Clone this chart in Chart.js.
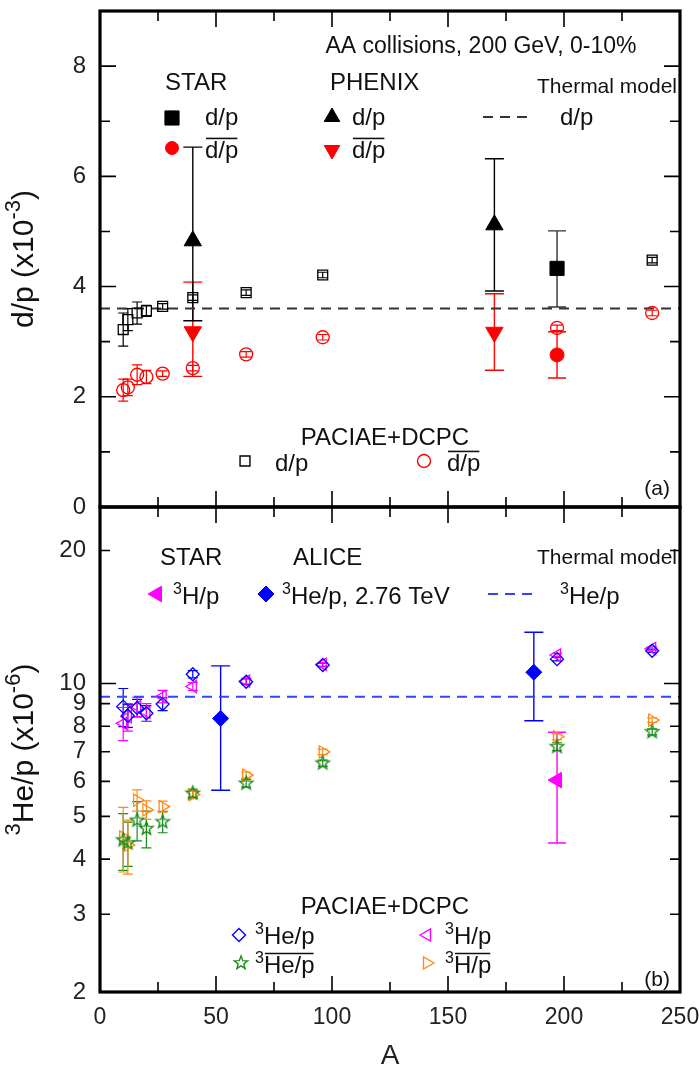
<!DOCTYPE html>
<html><head><meta charset="utf-8">
<script src="https://cdn.jsdelivr.net/npm/chart.js@4.4.0/dist/chart.umd.min.js"></script>
<style>
html,body{margin:0;padding:0;background:#fff;}
#wrap{position:relative;width:699px;height:1068px;}
.c{position:absolute;left:0;top:0;width:699px;height:1068px;}
</style></head><body>
<div id="wrap"><div class="c"><canvas id="top"></canvas></div><div class="c"><canvas id="bot"></canvas></div></div>
<script>
// ---------------- data ----------------
const nucleiA = [10, 12, 16, 20, 27, 40, 63, 96, 197, 238];
// panel (a)
const paciaeDP = [3.22, 3.40, 3.52, 3.56, 3.64, 3.80, 3.89, 4.21, 4.33, 4.48];
const paciaeDPErr = [0.30, 0.20, 0.20, 0.10, 0.05, 0.05, 0.05, 0.05, 0.05, 0.05];
const paciaeDbarPbar = [2.12, 2.17, 2.40, 2.36, 2.42, 2.52, 2.77, 3.08, 3.25, 3.52];
const paciaeDbarPbarErr = [0.20, 0.15, 0.18, 0.12, 0.05, 0.05, 0.05, 0.05, 0.05, 0.05];
const starA = [197];
const starDP = [4.33];
const starDPErrUp = [0.68];
const starDPErrDn = [0.70];
const starDbarPbar = [2.76];
const starDbarPbarErrUp = [0.42];
const starDbarPbarErrDn = [0.42];
const phenixA = [40, 170];
const phenixDP = [4.83, 5.12];
const phenixDPErrUp = [1.70, 1.20];
const phenixDPErrDn = [1.45, 1.20];
const phenixDbarPbar = [3.18, 3.17];
const phenixDbarPbarErrUp = [0.90, 0.70];
const phenixDbarPbarErrDn = [0.81, 0.69];
const thermalDP = 3.6;
// panel (b)
const paciaeHe3 = [8.86, 8.45, 8.80, 8.56, 8.98, 10.49, 10.09, 11.01, 11.35, 11.86];
const paciaeHe3Err = [0.88, 0.50, 0.40, 0.35, 0.30, 0.20, 0.15, 0.10, 0.10, 0.10];
const paciaeH3 = [8.12, 8.40, 8.86, 8.60, 9.34, 9.84, 10.12, 11.05, 11.60, 12.00];
const paciaeH3Err = [0.70, 0.60, 0.45, 0.40, 0.30, 0.20, 0.15, 0.10, 0.10, 0.10];
const paciaeHe3bar = [4.42, 4.35, 4.90, 4.69, 4.86, 5.64, 5.94, 6.60, 7.19, 7.77];
const paciaeHe3barErr = [0.65, 0.50, 0.50, 0.45, 0.27, 0.12, 0.12, 0.10, 0.15, 0.12];
const paciaeH3bar = [4.49, 4.30, 5.44, 5.17, 5.26, 5.60, 6.20, 7.00, 7.57, 8.26];
const paciaeH3barErr = [0.75, 0.60, 0.30, 0.25, 0.15, 0.12, 0.10, 0.10, 0.12, 0.10];
const aliceA = [52, 187];
const aliceHe3 = [8.33, 10.60];
const aliceHe3ErrUp = [2.63, 2.46];
const aliceHe3ErrDn = [2.60, 2.37];
const starH3A = [197];
const starH3 = [6.04];
const starH3ErrUp = [1.71];
const starH3ErrDn = [1.69];
const thermalHe3 = 9.33;
// axes
const xTickValues = [0, 50, 100, 150, 200, 250];
const xMinorValues = [25, 75, 125, 175, 225];
const topYTickValues = [0, 2, 4, 6, 8];
const topYMinorValues = [1, 3, 5, 7];
const botYTickValues = [2, 3, 4, 5, 6, 7, 8, 9, 10, 20];
const botYMajorMarks = [10];
const botYMinorMarks = [3, 4, 5, 6, 7, 8, 9, 20];

// ---------------- helpers ----------------
const FONT = "'Liberation Sans', Arial, Helvetica, sans-serif";
const COL = {black:'#000000', red:'#ff0000', magenta:'#ff00ff', blue:'#0000ff', blueDash:'#3344ff', green:'#1a8c1a', orange:'#ff8c1a', dash:'#333333'};

function pts(xs, ys) { return xs.map((x, i) => ({x: x, y: ys[i]})); }

function pathMarker(ctx, type, x, y, r, rot) {
  ctx.beginPath();
  if (type === 'rect') {
    const s = r * Math.SQRT1_2; ctx.rect(x - s, y - s, 2 * s, 2 * s);
  } else if (type === 'circle') {
    ctx.arc(x, y, r, 0, Math.PI * 2);
  } else if (type === 'tri') {
    let a = (rot || 0) * Math.PI / 180;
    for (let k = 0; k < 3; k++) {
      const px = x + Math.sin(a) * r, py = y - Math.cos(a) * r;
      if (k === 0) ctx.moveTo(px, py); else ctx.lineTo(px, py);
      a += 2 * Math.PI / 3;
    }
    ctx.closePath();
  } else if (type === 'diamond') {
    ctx.moveTo(x - r, y); ctx.lineTo(x, y - r); ctx.lineTo(x + r, y); ctx.lineTo(x, y + r); ctx.closePath();
  } else if (type === 'star') {
    for (let k = 0; k < 10; k++) {
      const rr = k % 2 === 0 ? r : r * 0.42;
      const a = -Math.PI / 2 + k * Math.PI / 5;
      const px = x + Math.cos(a) * rr, py = y + Math.sin(a) * rr;
      if (k === 0) ctx.moveTo(px, py); else ctx.lineTo(px, py);
    }
    ctx.closePath();
  }
}
function drawMarker(ctx, type, x, y, r, stroke, fill, lw, rot) {
  ctx.save();
  pathMarker(ctx, type, x, y, r, rot);
  if (fill) { ctx.fillStyle = fill; ctx.fill(); }
  ctx.lineWidth = lw; ctx.strokeStyle = stroke; ctx.stroke();
  ctx.restore();
}
function starImage(color, r, lw) {
  const s = Math.ceil(2 * r + 2 * lw + 2);
  const c = document.createElement('canvas'); c.width = s; c.height = s;
  const g = c.getContext('2d');
  pathMarker(g, 'star', s / 2, s / 2, r, 0);
  g.lineWidth = lw; g.strokeStyle = color; g.stroke();
  return c;
}

// rich text: parts = [[text, flags]] flags: 's' superscript, 'o' overline
function richText(ctx, parts, x, y, size, align, supScale) {
  ctx.save();
  ctx.textBaseline = 'alphabetic';
  ctx.fillStyle = '#111';
  const supSize = Math.round(size * (supScale || 0.68));
  const widths = parts.map(p => {
    ctx.font = (p[1] && p[1].includes('s') ? supSize : size) + 'px ' + FONT;
    return ctx.measureText(p[0]).width;
  });
  const total = widths.reduce((a, b) => a + b, 0);
  let cx = align === 'center' ? x - total / 2 : (align === 'right' ? x - total : x);
  const base = y + size * 0.36;
  parts.forEach((p, i) => {
    const f = p[1] || '';
    const sup = f.includes('s');
    ctx.font = (sup ? supSize : size) + 'px ' + FONT;
    ctx.textAlign = 'left';
    ctx.fillText(p[0], cx, sup ? base - size * 0.42 : base);
    if (f.includes('o')) {
      ctx.beginPath(); ctx.lineWidth = 1.6; ctx.strokeStyle = '#111';
      const oy = base - size * 0.80;
      ctx.moveTo(cx + 1, oy); ctx.lineTo(cx + widths[i] - 1, oy); ctx.stroke();
    }
    cx += widths[i];
  });
  ctx.restore();
}
function vertText(ctx, parts, x, y, size, supScale) {
  ctx.save();
  ctx.translate(x, y); ctx.rotate(-Math.PI / 2);
  richText(ctx, parts, 0, 0, size, 'center', supScale);
  ctx.restore();
}

// ---------------- plugins ----------------
const errorBarPlugin = {
  id: 'errbars',
  beforeDatasetsDraw(chart) {
    const ctx = chart.ctx, ca = chart.chartArea;
    const xs = chart.scales.x, ys = chart.scales.y;
    ctx.save();
    ctx.beginPath(); ctx.rect(ca.left, ca.top, ca.right - ca.left, ca.bottom - ca.top); ctx.clip();
    chart.data.datasets.forEach((ds) => {
      if (!ds.err) return;
      const e = ds.err;
      ctx.strokeStyle = e.color; ctx.lineWidth = e.width || 1.4;
      ds.data.forEach((p, j) => {
        const up = e.up[j], dn = e.dn[j];
        const px = xs.getPixelForValue(p.x);
        const yt = ys.getPixelForValue(p.y + up);
        const yb = ys.getPixelForValue(p.y - dn);
        ctx.beginPath();
        ctx.moveTo(px, yt); ctx.lineTo(px, yb);
        ctx.moveTo(px - e.cap, yt); ctx.lineTo(px + e.cap, yt);
        ctx.moveTo(px - e.cap, yb); ctx.lineTo(px + e.cap, yb);
        ctx.stroke();
      });
    });
    ctx.restore();
  }
};

function framePlugin(cfg) {
  return {
    id: 'frame',
    afterDraw(chart) {
      const ctx = chart.ctx, ca = chart.chartArea;
      const xs = chart.scales.x, ys = chart.scales.y;
      ctx.save();
      ctx.strokeStyle = '#000';
      ctx.lineWidth = 1.6;
      const tick = (vals, len, isX) => {
        vals.forEach(v => {
          ctx.beginPath();
          if (isX) {
            const px = xs.getPixelForValue(v);
            ctx.moveTo(px, ca.bottom); ctx.lineTo(px, ca.bottom - len);
            ctx.moveTo(px, ca.top); ctx.lineTo(px, ca.top + len);
          } else {
            const py = ys.getPixelForValue(v);
            ctx.moveTo(ca.left, py); ctx.lineTo(ca.left + len, py);
            ctx.moveTo(ca.right, py); ctx.lineTo(ca.right - len, py);
          }
          ctx.stroke();
        });
      };
      tick(cfg.xMajor, 16, true); tick(cfg.xMinor, 10, true);
      tick(cfg.yMajor, 16, false); tick(cfg.yMinor, 10, false);
      ctx.lineWidth = 3.2;
      ctx.strokeRect(ca.left, ca.top, ca.right - ca.left, ca.bottom - ca.top);
      ctx.restore();
      if (cfg.texts) cfg.texts(ctx, chart);
    }
  };
}

function setTicks(values) {
  return function (scale) { scale.ticks = values.map(v => ({value: v})); };
}
function fixY(s) { s.width = 100; s.paddingTop = 0; s.paddingBottom = 0; }
function fixX(h) { return function (s) { s.height = h; s.paddingLeft = 0; s.paddingRight = 0; }; }

const baseScaleX = {
  type: 'linear', min: 0, max: 250,
  grid: {display: false, drawTicks: false}, border: {display: false},
  afterBuildTicks: setTicks(xTickValues)
};
const RIGHT_PAD = 19;

// ---------------- top chart (a) ----------------
function topTexts(ctx, chart) {
  const S = 24;
  const ca = chart.chartArea;
  vertText(ctx, [['d/p (x10'], ['-3', 's'], [')']], 22, (ca.top + ca.bottom) / 2, 30, 0.72);
  richText(ctx, [['AA collisions, 200 GeV, 0-10%']], 481, 45, 23, 'center');
  richText(ctx, [['STAR']], 165, 81, S, 'left');
  richText(ctx, [['PHENIX']], 330, 81, S, 'left');
  richText(ctx, [['Thermal model']], 677, 85, 21, 'right');
  drawMarker(ctx, 'rect', 172, 118, 10, '#000', '#000', 1, 0);
  richText(ctx, [['d/p']], 205, 116, S, 'left');
  drawMarker(ctx, 'circle', 172, 148, 6.5, COL.red, COL.red, 1, 0);
  richText(ctx, [['d/p', 'o']], 205, 149, S, 'left');
  drawMarker(ctx, 'tri', 332, 117, 9, '#000', '#000', 1, 0);
  richText(ctx, [['d/p']], 352, 116, S, 'left');
  drawMarker(ctx, 'tri', 332, 150, 9, COL.red, COL.red, 1, 180);
  richText(ctx, [['d/p', 'o']], 352, 149, S, 'left');
  ctx.save(); ctx.strokeStyle = COL.dash; ctx.lineWidth = 2; ctx.setLineDash([10, 7]);
  ctx.beginPath(); ctx.moveTo(483, 117); ctx.lineTo(530, 117); ctx.stroke(); ctx.restore();
  richText(ctx, [['d/p']], 560, 116, S, 'left');
  richText(ctx, [['PACIAE+DCPC']], 385, 436, S, 'center');
  drawMarker(ctx, 'rect', 245, 461, 7, '#000', null, 1.4, 0);
  richText(ctx, [['d/p']], 275, 462, S, 'left');
  drawMarker(ctx, 'circle', 424, 461, 6.5, COL.red, null, 1.4, 0);
  richText(ctx, [['d/p', 'o']], 447, 462, S, 'left');
  richText(ctx, [['(a)']], 670, 487, 21, 'right');
}

new Chart(document.getElementById('top'), {
  type: 'scatter',
  data: {
    datasets: [
      {label: 'STAR d/p', data: pts(starA, starDP), pointStyle: 'rect', pointRadius: 10, backgroundColor: '#000', borderColor: '#000', borderWidth: 1,
        err: {up: starDPErrUp, dn: starDPErrDn, cap: 9, color: '#333'}},
      {label: 'STAR dbar/pbar', data: pts(starA, starDbarPbar), pointStyle: 'circle', pointRadius: 7, backgroundColor: COL.red, borderColor: COL.red, borderWidth: 1,
        err: {up: starDbarPbarErrUp, dn: starDbarPbarErrDn, cap: 9, color: COL.red}},
      {label: 'PHENIX dbar/pbar', data: pts(phenixA, phenixDbarPbar), pointStyle: 'triangle', rotation: 180, pointRadius: 10, backgroundColor: COL.red, borderColor: COL.red, borderWidth: 1,
        err: {up: phenixDbarPbarErrUp, dn: phenixDbarPbarErrDn, cap: 9.5, color: COL.red}},
      {label: 'PHENIX d/p', data: pts(phenixA, phenixDP), pointStyle: 'triangle', pointRadius: 10, backgroundColor: '#000', borderColor: '#000', borderWidth: 1,
        err: {up: phenixDPErrUp, dn: phenixDPErrDn, cap: 9.5, color: '#000'}},
      {label: 'PACIAE d/p', data: pts(nucleiA, paciaeDP), pointStyle: 'rect', pointRadius: 7, backgroundColor: 'rgba(0,0,0,0)', borderColor: '#000', borderWidth: 1.3,
        err: {up: paciaeDPErr, dn: paciaeDPErr, cap: 5, color: '#000', width: 1.2}},
      {label: 'PACIAE dbar/pbar', data: pts(nucleiA, paciaeDbarPbar), pointStyle: 'circle', pointRadius: 6.5, backgroundColor: 'rgba(0,0,0,0)', borderColor: COL.red, borderWidth: 1.3,
        err: {up: paciaeDbarPbarErr, dn: paciaeDbarPbarErr, cap: 5, color: COL.red, width: 1.2}},
      {type: 'line', label: 'Thermal d/p', data: [{x: 0, y: thermalDP}, {x: 250, y: thermalDP}], borderColor: COL.dash, borderWidth: 2, borderDash: [10, 7], pointRadius: 0, fill: false}
    ]
  },
  options: {
    responsive: true, maintainAspectRatio: false, animation: false, devicePixelRatio: 1,
    layout: {padding: {top: 6, right: RIGHT_PAD, bottom: 561, left: 0}},
    plugins: {legend: {display: false}, tooltip: {enabled: false}},
    scales: {
      x: Object.assign({}, baseScaleX, {display: false}),
      y: {
        type: 'linear', min: 0, max: 9,
        grid: {display: false, drawTicks: false}, border: {display: false},
        afterBuildTicks: setTicks(topYTickValues),
        ticks: {font: {family: FONT, size: 24}, color: '#222', padding: 14, autoSkip: false},
        afterFit: fixY
      }
    }
  },
  plugins: [errorBarPlugin, framePlugin({xMajor: xTickValues, xMinor: xMinorValues, yMajor: topYTickValues, yMinor: topYMinorValues, texts: topTexts})]
});

// ---------------- bottom chart (b) ----------------
function botTexts(ctx, chart) {
  const S = 24;
  const ca = chart.chartArea;
  vertText(ctx, [['3', 's'], ['He/p (x10'], ['-6', 's'], [')']], 22, (ca.top + ca.bottom) / 2, 30, 0.72);
  richText(ctx, [['STAR']], 160, 556, S, 'left');
  richText(ctx, [['ALICE']], 293, 556, S, 'left');
  richText(ctx, [['Thermal model']], 677, 556, 21, 'right');
  drawMarker(ctx, 'tri', 157, 594, 9, COL.magenta, COL.magenta, 1, -90);
  richText(ctx, [['3', 's'], ['H/p']], 173, 595, S, 'left');
  drawMarker(ctx, 'diamond', 266, 594, 8, COL.blue, COL.blue, 1, 0);
  richText(ctx, [['3', 's'], ['He/p, 2.76 TeV']], 282, 595, S, 'left');
  ctx.save(); ctx.strokeStyle = COL.blueDash; ctx.lineWidth = 2; ctx.setLineDash([10, 7]);
  ctx.beginPath(); ctx.moveTo(488, 594); ctx.lineTo(535, 594); ctx.stroke(); ctx.restore();
  richText(ctx, [['3', 's'], ['He/p']], 560, 595, S, 'left');
  richText(ctx, [['PACIAE+DCPC']], 385, 905, S, 'center');
  drawMarker(ctx, 'diamond', 239, 935, 6.5, COL.blue, null, 1.4, 0);
  richText(ctx, [['3', 's'], ['He/p']], 255, 935, S, 'left');
  drawMarker(ctx, 'tri', 427, 935, 7, COL.magenta, null, 1.4, -90);
  richText(ctx, [['3', 's'], ['H/p']], 445, 935, S, 'left');
  drawMarker(ctx, 'star', 241, 963, 7, COL.green, null, 1.4, 0);
  richText(ctx, [['3', 's'], ['He/p', 'o']], 255, 964, S, 'left');
  drawMarker(ctx, 'tri', 427, 963, 7, COL.orange, null, 1.4, 90);
  richText(ctx, [['3', 's'], ['H/p', 'o']], 445, 964, S, 'left');
  richText(ctx, [['(b)']], 670, 978, 21, 'right');
}

new Chart(document.getElementById('bot'), {
  type: 'scatter',
  data: {
    datasets: [
      {label: 'STAR 3H/p', data: pts(starH3A, starH3), pointStyle: 'triangle', rotation: -90, pointRadius: 9, backgroundColor: COL.magenta, borderColor: COL.magenta, borderWidth: 1,
        err: {up: starH3ErrUp, dn: starH3ErrDn, cap: 9, color: COL.magenta}},
      {label: 'ALICE 3He/p', data: pts(aliceA, aliceHe3), pointStyle: 'rectRot', pointRadius: 8, backgroundColor: COL.blue, borderColor: COL.blue, borderWidth: 1,
        err: {up: aliceHe3ErrUp, dn: aliceHe3ErrDn, cap: 9.5, color: COL.blue}},
      {label: 'PACIAE 3He/p', data: pts(nucleiA, paciaeHe3), pointStyle: 'rectRot', pointRadius: 6.5, backgroundColor: 'rgba(0,0,0,0)', borderColor: COL.blue, borderWidth: 1.3,
        err: {up: paciaeHe3Err, dn: paciaeHe3Err, cap: 5, color: COL.blue, width: 1.2}},
      {label: 'PACIAE 3H/p', data: pts(nucleiA, paciaeH3), pointStyle: 'triangle', rotation: -90, pointRadius: 7, backgroundColor: 'rgba(0,0,0,0)', borderColor: COL.magenta, borderWidth: 1.3,
        err: {up: paciaeH3Err, dn: paciaeH3Err, cap: 5, color: COL.magenta, width: 1.2}},
      {label: 'PACIAE 3Hebar/pbar', data: pts(nucleiA, paciaeHe3bar), pointStyle: starImage(COL.green, 7, 1.4), pointRadius: 7, borderColor: COL.green,
        err: {up: paciaeHe3barErr, dn: paciaeHe3barErr, cap: 5, color: COL.green, width: 1.2}},
      {label: 'PACIAE 3Hbar/pbar', data: pts(nucleiA, paciaeH3bar), pointStyle: 'triangle', rotation: 90, pointRadius: 7, backgroundColor: 'rgba(0,0,0,0)', borderColor: COL.orange, borderWidth: 1.3,
        err: {up: paciaeH3barErr, dn: paciaeH3barErr, cap: 5, color: COL.orange, width: 1.2}},
      {type: 'line', label: 'Thermal 3He/p', data: [{x: 0, y: thermalHe3}, {x: 250, y: thermalHe3}], borderColor: COL.blueDash, borderWidth: 2, borderDash: [10, 7], pointRadius: 0, fill: false}
    ]
  },
  options: {
    responsive: true, maintainAspectRatio: false, animation: false, devicePixelRatio: 1,
    layout: {padding: {top: 507, right: RIGHT_PAD, bottom: 0, left: 0}},
    plugins: {legend: {display: false}, tooltip: {enabled: false}},
    scales: {
      x: Object.assign({}, baseScaleX, {
        ticks: {font: {family: FONT, size: 23}, color: '#222', padding: 12, autoSkip: false, maxRotation: 0},
        title: {display: true, text: 'A', font: {family: FONT, size: 28, lineHeight: 0.85}, color: '#222', padding: {top: 0, bottom: 0}},
        afterFit: fixX(76)
      }),
      y: {
        type: 'logarithmic', min: 2, max: 25.1,
        grid: {display: false, drawTicks: false}, border: {display: false},
        afterBuildTicks: setTicks(botYTickValues),
        ticks: {font: {family: FONT, size: 24}, color: '#222', padding: 14, autoSkip: false, callback: (v) => String(v)},
        afterFit: fixY
      }
    }
  },
  plugins: [errorBarPlugin, framePlugin({xMajor: xTickValues, xMinor: xMinorValues, yMajor: botYMajorMarks, yMinor: botYMinorMarks, texts: botTexts})]
});
</script>
</body></html>
